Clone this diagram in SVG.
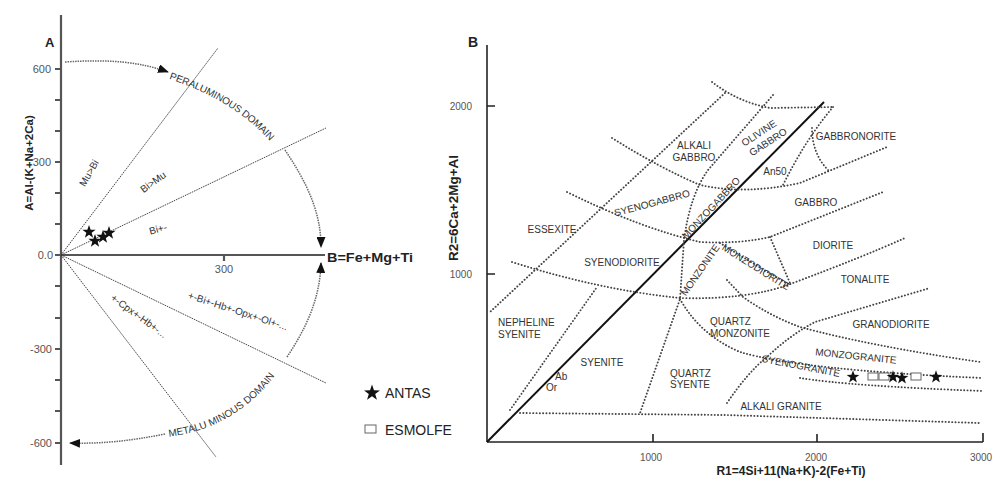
<svg xmlns="http://www.w3.org/2000/svg" width="1002" height="479" viewBox="0 0 1002 479">
<style>
text{font-family:"Liberation Sans",Arial,sans-serif}
.lb{font-size:10px;fill:#333}
.sm{font-size:10px;fill:#333}
.tk{font-size:11px;fill:#555}
.tkb{font-size:10px;fill:#555}
.tt{font-weight:bold;fill:#222}
.axa{stroke:#555;stroke-width:2.2;fill:none}
.axb{stroke:#222;stroke-width:1.6;fill:none}
.da{stroke:#333;stroke-width:0.9;stroke-dasharray:1.6 0.9;fill:none}
.arc{stroke:#666;stroke-width:1.5;stroke-dasharray:1.5 1;fill:none}
.db{stroke:#444;stroke-width:1.9;stroke-dasharray:0.1 3.2;stroke-linecap:round;fill:none}
.sq{fill:#fff;stroke:#666;stroke-width:1}
.lg{font-size:14px;fill:#222}
</style>
<defs>
<path id="star" d="M0,-7 L1.646,-2.265 L6.657,-2.163 L2.663,0.865 L4.114,5.663 L0,2.8 L-4.114,5.663 L-2.663,0.865 L-6.657,-2.163 L-1.646,-2.265 Z" fill="#111"/>
<marker id="ah" viewBox="0 0 11 9" refX="10" refY="4.5" markerWidth="11" markerHeight="9" orient="auto" markerUnits="userSpaceOnUse"><path d="M0,0 L11,4.5 L0,9 Z" fill="#111"/></marker>
<path id="tp1" d="M168,72 C215,88 255,110 285,150"/>
<path id="tp2" d="M167,437 C215,432 260,405 287,357"/>
</defs>

<g id="panelA-axes">
<line class="axa" x1="61" y1="15" x2="61" y2="465"/>
<line class="axa" x1="61" y1="255" x2="325" y2="255"/>
<path class="axa" stroke-width="1.4" d="M55,69H61M55,100H61M55,131H61M55,162H61M55,193H61M55,224H61M55,255H61M55,286H61M55,318H61M55,349H61M55,380H61M55,411H61M55,443H61M224,255V261"/>
<text class="tk" x="51" y="73" text-anchor="end">600</text>
<text class="tk" x="51" y="166" text-anchor="end">300</text>
<text class="tk" x="53" y="259" text-anchor="end">0.0</text>
<text class="tk" x="52" y="353" text-anchor="end">-300</text>
<text class="tk" x="52" y="447" text-anchor="end">-600</text>
<text class="tk" x="224" y="273" text-anchor="middle">300</text>
<text class="tt" x="45" y="47" font-size="13">A</text>
<text class="tt" font-size="11.5" transform="translate(33,163) rotate(-90)" text-anchor="middle">A=Al-(K+Na+2Ca)</text>
<text class="tt" font-size="13" x="327" y="262" textLength="86" lengthAdjust="spacingAndGlyphs">B=Fe+Mg+Ti</text>
</g>

<g id="panelA-lines">
<line class="da" x1="61" y1="255" x2="218" y2="48"/>
<line class="da" x1="61" y1="255" x2="326" y2="128"/>
<line class="da" x1="61" y1="255" x2="326" y2="383"/>
<line class="da" x1="61" y1="255" x2="216" y2="457"/>
<path class="arc" d="M65,62 C110,59 140,62 168,72" marker-end="url(#ah)"/>
<path class="arc" d="M285,150 C305,180 321,210 321,247" marker-end="url(#ah)"/>
<path class="arc" d="M165,434 C130,441 100,444 70,443" marker-end="url(#ah)"/>
<path class="arc" d="M287,357 C305,330 320,300 321,263" marker-end="url(#ah)"/>
</g>

<g id="panelA-labels">
<text class="sm" font-size="10.5"><textPath href="#tp1" startOffset="3"><tspan dy="6">PERALUMINOUS DOMAIN</tspan></textPath></text>
<text class="sm" font-size="10.5"><textPath href="#tp2" startOffset="2">METALU MINOUS DOMAIN</textPath></text>
<text class="sm" text-anchor="middle" transform="translate(89,173) rotate(-60)" y="3.5">Mu&gt;Bi</text>
<text class="sm" text-anchor="middle" transform="translate(153,182) rotate(-36)" y="3.5">Bi&gt;Mu</text>
<text class="sm" text-anchor="middle" transform="translate(158,229) rotate(-15)" y="3.5">Bi+-</text>
<text class="sm" text-anchor="middle" transform="translate(139,316) rotate(36)" y="3.5">+-Cpx+-Hb+-...</text>
<text class="sm" text-anchor="middle" transform="translate(238,311) rotate(18)" y="3.5">+-Bi+-Hb+-Opx+-Ol+-...</text>
</g>

<g id="panelA-data">
<use href="#star" x="89" y="232"/>
<use href="#star" x="95" y="241"/>
<use href="#star" x="103" y="237"/>
<use href="#star" x="109" y="233"/>
</g>

<g id="legend">
<use href="#star" transform="translate(372,393) scale(1.2)"/>
<text class="lg" x="385" y="398">ANTAS</text>
<rect class="sq" x="365" y="425" width="11" height="8"/>
<text class="lg" x="385" y="435">ESMOLFE</text>
</g>

<g id="panelB-axes">
<line class="axb" x1="487" y1="45" x2="487" y2="442"/>
<line class="axb" x1="487" y1="442" x2="983" y2="442"/>
<path class="axb" d="M487,106H495M487,274H495M653,442V434M817,442V434M983,442V433"/>
<text class="tkb" x="472" y="110" text-anchor="end">2000</text>
<text class="tkb" x="472" y="278" text-anchor="end">1000</text>
<text class="tkb" x="651" y="461" text-anchor="middle">1000</text>
<text class="tkb" x="816" y="461" text-anchor="middle">2000</text>
<text class="tkb" x="981" y="461" text-anchor="middle">3000</text>
<text class="tt" x="468" y="47" font-size="14">B</text>
<text class="tt" font-size="12" x="791" y="475" text-anchor="middle">R1=4Si+11(Na+K)-2(Fe+Ti)</text>
<text class="tt" font-size="13.5" transform="translate(458,208) rotate(-90)" text-anchor="middle">R2=6Ca+2Mg+Al</text>
</g>

<g id="panelB-boundaries">
<line x1="487" y1="442" x2="824" y2="102" stroke="#111" stroke-width="2"/>
<path class="db" d="M712,82 Q738,102 770,108 L833,107"/>
<path class="db" d="M725,93 L490,312"/>
<path class="db" d="M773,95 L708,170 Q690,195 684,240 L680,299 L640,413"/>
<path class="db" d="M612,138 Q660,168 700,185 Q745,195 800,183 L887,147"/>
<path class="db" d="M567,192 Q640,228 700,242 Q740,244 770,237 L883,192"/>
<path class="db" d="M512,262 Q600,290 680,298 Q750,300 793,283 Q860,258 905,238"/>
<path class="db" d="M510,410 L597,287"/>
<path class="db" d="M833,107 Q805,140 782,187"/>
<path class="db" d="M812,128 Q812,155 830,172"/>
<path class="db" d="M770,237 L790,283"/>
<path class="db" d="M720,243 Q750,262 790,285"/>
<path class="db" d="M727,280 L743,297 Q770,316 800,327 Q870,346 980,362"/>
<path class="db" d="M680,299 Q700,335 740,352 Q800,370 983,378"/>
<path class="db" d="M727,403 Q748,372 767,357 Q790,335 815,322 L930,288"/>
<path class="db" d="M800,378 Q850,386 983,391"/>
<path class="db" d="M520,413 L725,415 L980,423"/>
</g>

<g id="panelB-labels">
<text class="lb" x="694" y="149" text-anchor="middle">ALKALI</text>
<text class="lb" x="694" y="161" text-anchor="middle">GABBRO</text>
<text class="lb" text-anchor="middle" transform="translate(759,133) rotate(-33)" y="3.5">OLIVINE</text>
<text class="lb" text-anchor="middle" transform="translate(768,142) rotate(-33)" y="3.5">GABBRO</text>
<text class="lb" x="856" y="140" text-anchor="middle">GABBRONORITE</text>
<text class="lb" x="775" y="175" text-anchor="middle">An50</text>
<text class="lb" x="816" y="206" text-anchor="middle">GABBRO</text>
<text class="lb" x="833" y="249" text-anchor="middle">DIORITE</text>
<text class="lb" x="865" y="283" text-anchor="middle">TONALITE</text>
<text class="lb" x="552" y="233" text-anchor="middle">ESSEXITE</text>
<text class="lb" text-anchor="middle" transform="translate(652,203) rotate(-15)" y="3.5">SYENOGABBRO</text>
<text class="lb" text-anchor="middle" transform="translate(711,208) rotate(-47)" y="3.5">MONZOGABBRO</text>
<text class="lb" x="622" y="266" text-anchor="middle">SYENODIORITE</text>
<text class="lb" text-anchor="middle" transform="translate(700,270) rotate(-55)" y="3.5">MONZONITE</text>
<text class="lb" text-anchor="middle" transform="translate(756,267) rotate(32)" y="3.5">MONZODIORITE</text>
<text class="lb" x="498" y="326">NEPHELINE</text>
<text class="lb" x="498" y="338">SYENITE</text>
<text class="lb" x="602" y="366" text-anchor="middle">SYENITE</text>
<text class="lb" x="555" y="380">Ab</text>
<text class="lb" x="546" y="391">Or</text>
<text class="lb" x="670" y="377">QUARTZ</text>
<text class="lb" x="670" y="388">SYENTE</text>
<text class="lb" x="710" y="325">QUARTZ</text>
<text class="lb" x="710" y="337">MONZONITE</text>
<text class="lb" x="891" y="328" text-anchor="middle">GRANODIORITE</text>
<text class="lb" text-anchor="middle" transform="translate(856,356) rotate(6)" y="3.5">MONZOGRANITE</text>
<text class="lb" text-anchor="middle" transform="translate(801,366) rotate(11)" y="3.5">SYENOGRANITE</text>
<text class="lb" x="781" y="410" text-anchor="middle">ALKALI GRANITE</text>
</g>

<g id="panelB-data">
<rect class="sq" x="868" y="373" width="10" height="7"/>
<rect class="sq" x="879" y="373" width="10" height="7"/>
<rect class="sq" x="911" y="373" width="10" height="7"/>
<use href="#star" transform="translate(853,377) scale(0.95)"/>
<use href="#star" transform="translate(893,377) scale(0.95)"/>
<use href="#star" transform="translate(902,378) scale(0.95)"/>
<use href="#star" transform="translate(936,377) scale(0.95)"/>
</g>
</svg>
